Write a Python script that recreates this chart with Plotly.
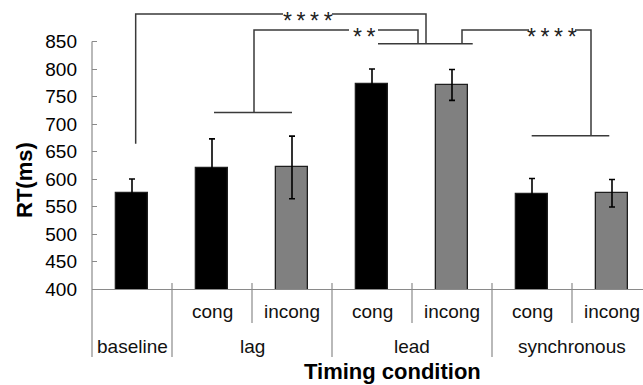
import plotly.graph_objects as go

# ---- data ----
bar_labels = ["baseline", "lag cong", "lag incong", "lead cong", "lead incong",
              "synchronous cong", "synchronous incong"]
conditions = ["baseline", "lag", "lag", "lead", "lead", "synchronous", "synchronous"]
congruency = ["", "cong", "incong", "cong", "incong", "cong", "incong"]
rt_mean = [574, 620, 621, 773, 771, 573, 574]
rt_err = [26, 53, 57, 27, 28, 28, 25]
bar_fill = ["#000000", "#000000", "#808080", "#000000", "#808080", "#000000", "#808080"]
y_ticks = [400, 450, 500, 550, 600, 650, 700, 750, 800, 850]

# significance brackets: (polyline segments in (category index, RT) units, star label, label pos)
brackets = [
    {"segs": [[(0.046, 664), (0.046, 900), (1.8875, 900)],
              [(2.5, 900), (3.675, 900), (3.675, 846)]],
     "label": "****", "pos": (2.194, 900)},
    {"segs": [[(1.025, 721), (2.0, 721)],
              [(1.525, 721), (1.525, 871), (2.7125, 871)],
              [(3.075, 871), (3.575, 871), (3.575, 846)]],
     "label": "**", "pos": (2.9, 871)},
    {"segs": [[(3.075, 846), (4.259, 846)],
              [(4.125, 846), (4.125, 871), (4.9625, 871)],
              [(5.5375, 871), (5.7375, 871), (5.7375, 678.5)],
              [(4.996, 678.5), (5.966, 678.5)]],
     "label": "****", "pos": (5.25, 871)},
]

Y_MIN, Y_MAX = 400, 925.5
FONT = "Liberation Sans, Arial, sans-serif"
AXIS_GREY = "#8a8a8a"
LINE_DARK = "#3a3a3a"

fig = go.Figure()
fig.add_trace(go.Bar(
    x=bar_labels, y=rt_mean, width=0.41,
    marker=dict(color=bar_fill, line=dict(color="#1e1e1e", width=1.3)),
    error_y=dict(type="data", array=rt_err, color="#000000", thickness=1.6, width=3),
    showlegend=False,
))

shapes = []
def ypaper(v):
    return (v - Y_MIN) / (Y_MAX - Y_MIN)
plot_h = 289.0
# y axis line from 850 down below the category labels
shapes.append(dict(type="line", xref="paper", yref="paper", x0=0, x1=0,
                   y0=ypaper(850), y1=-68 / plot_h, line=dict(color=AXIS_GREY, width=1.2)))
# category dividers
for i in range(len(bar_labels)):
    xb = i + 0.5
    nxt = conditions[i + 1] if i + 1 < len(conditions) else None
    long_div = nxt != conditions[i]
    y_bot = -68 / plot_h if long_div else -34 / plot_h
    shapes.append(dict(type="line", xref="x", yref="paper", x0=xb, x1=xb,
                       y0=6 / plot_h, y1=y_bot, line=dict(color=AXIS_GREY, width=1.2)))

annotations = []
for b in brackets:
    for seg in b["segs"]:
        path = "M " + " L ".join(f"{x},{y}" for x, y in seg)
        shapes.append(dict(type="path", xref="x", yref="y", path=path,
                           line=dict(color=LINE_DARK, width=1.5)))
    star_text = "\u2009".join(b["label"])
    annotations.append(dict(x=b["pos"][0], y=b["pos"][1], xref="x", yref="y",
                            text=star_text, showarrow=False, yshift=-7,
                            font=dict(family=FONT, size=23, color="#222222")))

# category labels
for i, c in enumerate(congruency):
    if c:
        annotations.append(dict(x=i, y=-22.7 / plot_h, xref="x", yref="paper", text=c,
                                showarrow=False, yanchor="middle",
                                font=dict(family=FONT, size=19, color="#111111")))
groups = []
for i, c in enumerate(conditions):
    if not groups or groups[-1][0] != c:
        groups.append([c, i, i])
    else:
        groups[-1][2] = i
for name, a, b in groups:
    annotations.append(dict(x=(a + b) / 2, y=-57 / plot_h, xref="x", yref="paper", text=name,
                            showarrow=False, yanchor="middle",
                            font=dict(family=FONT, size=19, color="#111111")))

annotations.append(dict(x=(392.5 - 92) / 551, y=-82 / plot_h, xref="paper", yref="paper",
                        text="<b>Timing condition</b>", showarrow=False, yanchor="middle",
                        font=dict(family=FONT, size=22, color="#000000")))
annotations.append(dict(x=(24 - 92) / 551, y=(289 - 180) / plot_h, xref="paper", yref="paper",
                        text="<b>RT(ms)</b>", showarrow=False, textangle=-90,
                        xanchor="center", yanchor="middle",
                        font=dict(family=FONT, size=22, color="#000000")))

fig.update_layout(
    width=643, height=385,
    margin=dict(l=92, r=0, t=0, b=96),
    paper_bgcolor="white", plot_bgcolor="white",
    shapes=shapes, annotations=annotations,
    bargap=0,
    font=dict(family=FONT, size=19, color="#000000"),
)
fig.update_xaxes(range=[-0.5, -0.5 + 551 / 80], showticklabels=False, ticks="",
                 showline=True, linecolor=AXIS_GREY, linewidth=1.2, showgrid=False,
                 zeroline=False, fixedrange=True)
fig.update_yaxes(range=[Y_MIN, Y_MAX], tickvals=y_ticks, ticks="inside", ticklen=5,
                 tickcolor=AXIS_GREY, tickwidth=1.2, ticklabelstandoff=14,
                 showline=False, showgrid=False, zeroline=False,
                 tickfont=dict(family=FONT, size=19, color="#000000"))

fig.write_html("out.html")
